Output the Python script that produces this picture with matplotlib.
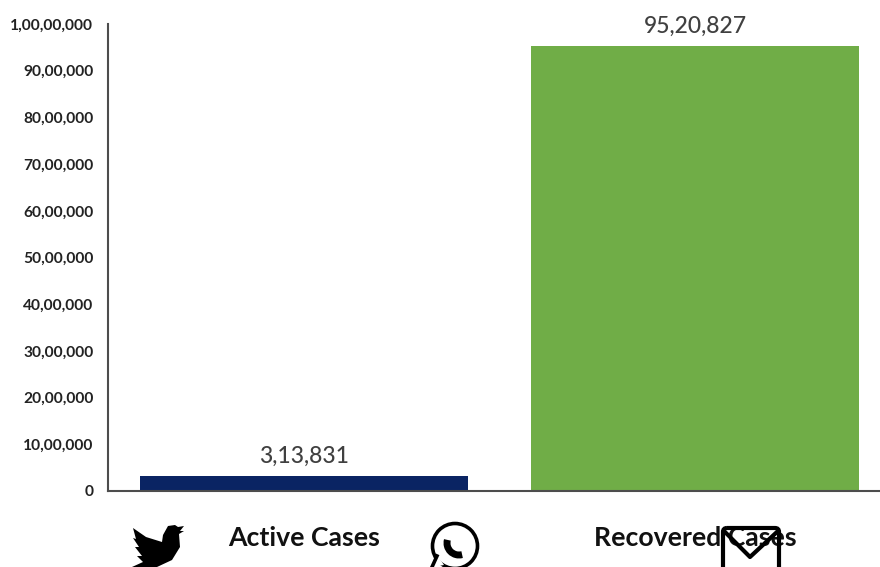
import matplotlib.pyplot as plt
from matplotlib.patches import Circle, FancyBboxPatch, Polygon, Arc

categories = ["Active Cases", "Recovered Cases"]
values = [313831, 9520827]
value_labels = ["3,13,831", "95,20,827"]
bar_colors = ["#0A2463", "#70AD47"]
y_ticks = [0, 1000000, 2000000, 3000000, 4000000, 5000000, 6000000, 7000000, 8000000, 9000000, 10000000]
y_tick_labels = ["0", "10,00,000", "20,00,000", "30,00,000", "40,00,000", "50,00,000",
                 "60,00,000", "70,00,000", "80,00,000", "90,00,000", "1,00,00,000"]

FONT = ["Lato", "DejaVu Sans"]
W, H = 880, 567

fig = plt.figure(figsize=(W / 100, H / 100), dpi=100)
ax = fig.add_axes([108 / W, (H - 491) / H, (W - 108) / W, 467 / H])

bars = ax.bar(range(len(categories)), values, width=0.839, color=bar_colors)
ax.bar_label(bars, labels=value_labels, padding=7, fontsize=16.5, color="#404040",
             fontweight="medium", family=FONT)

ax.set_xlim(-0.501, 1.473)
ax.set_ylim(0, 10000000)
ax.set_yticks(y_ticks)
ax.set_yticklabels(y_tick_labels, fontsize=11.2, fontweight="bold", color="#222222", family=FONT)
ax.set_xticks(range(len(categories)))
ax.set_xticklabels(categories, fontsize=19.2, fontweight="bold", color="#111111", family=FONT)
ax.tick_params(axis="y", length=0, pad=10.5)
ax.tick_params(axis="x", length=0, pad=25.5)

for side in ["top", "right"]:
    ax.spines[side].set_visible(False)
for side in ["left", "bottom"]:
    ax.spines[side].set_color("#4d4d4d")
    ax.spines[side].set_linewidth(1.5)

# share icons sit on top of the chart, in pixel coordinates
over = fig.add_axes([0, 0, 1, 1], facecolor="none")
over.axis("off")

bird = [(133, 528), (146, 537), (162, 542), (163, 535), (168, 526), (175, 525), (178, 527),
        (184, 526), (180, 531), (184, 531), (179, 534), (180, 547), (172, 560), (157, 567),
        (132, 567), (143, 562), (137, 556), (142, 556), (135, 547), (139, 547), (133, 538), (136, 539)]
over.add_patch(Polygon(bird, closed=True, color="black", lw=0))

over.add_patch(Circle((455, 546), 22.5, fill=False, ec="black", lw=2.6))
over.add_patch(Polygon([(433, 567), (437, 555), (444, 565)], closed=True, color="white", lw=0))
over.plot([437, 432, 432], [556, 567, 567], color="black", lw=2.6)
over.add_patch(Arc((459, 543), 24, 24, theta1=75, theta2=195, color="black", lw=5))

over.add_patch(FancyBboxPatch((723, 528), 56, 60, boxstyle="round,pad=0,rounding_size=4",
                              fill=False, ec="black", lw=3))
over.plot([724, 750, 778], [531, 557, 531], color="black", lw=3)
over.set_xlim(0, W)
over.set_ylim(H, 0)

fig.savefig("out.png", dpi=100)
